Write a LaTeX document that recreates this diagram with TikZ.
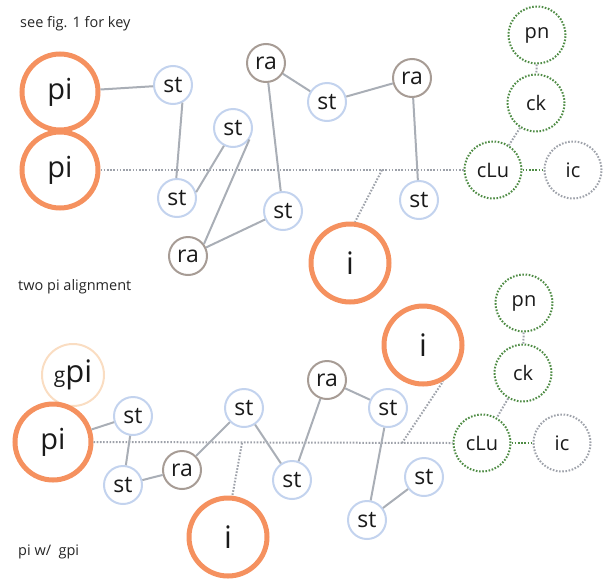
\documentclass[tikz,border=0pt]{standalone}
\usepackage{fontspec}
\setmainfont{Open Sans}
\definecolor{piorange}{HTML}{F5915F}
\definecolor{stblue}{HTML}{C3D3EE}
\definecolor{rabrown}{HTML}{A79C95}
\definecolor{edgegrey}{HTML}{A9AEB6}
\definecolor{clugreen}{HTML}{4F8C45}
\definecolor{icgrey}{HTML}{9EA2AA}
\definecolor{gpipeach}{HTML}{FADDC2}
\definecolor{inktext}{HTML}{1A1A1A}
\tikzset{
  every node/.style={text=inktext},
  pinode/.style={circle, draw=piorange, line width=5pt, minimum size=76pt, inner sep=0pt, font=\fontsize{29}{29}\selectfont},
  inode/.style={circle, draw=piorange, line width=5pt, minimum size=78pt, inner sep=0pt, font=\fontsize{31}{31}\selectfont},
  gpinode/.style={circle, draw=gpipeach, line width=2pt, minimum size=62pt, inner sep=0pt},
  stnode/.style={circle, draw=stblue, line width=2pt, minimum size=38pt, inner sep=0pt, font=\fontsize{23}{23}\selectfont},
  ranode/.style={circle, draw=rabrown, line width=2pt, minimum size=38pt, inner sep=0pt, font=\fontsize{23}{23}\selectfont},
  grnode/.style={circle, draw=clugreen, line width=2pt, dash pattern=on 1.6pt off 1.6pt, minimum size=57pt, inner sep=0pt, font=\fontsize{20}{20}\selectfont},
  icnode/.style={circle, draw=icgrey, line width=2pt, dash pattern=on 1.6pt off 1.6pt, minimum size=57pt, inner sep=0pt, font=\fontsize{20}{20}\selectfont},
  link/.style={draw=edgegrey, line width=2pt},
  dotlink/.style={draw=icgrey, line width=2pt, dash pattern=on 1.6pt off 1.6pt},
  greenlink/.style={draw=clugreen, line width=2pt, dash pattern=on 1.6pt off 1.6pt},
  caption/.style={anchor=west, inner sep=0pt, font=\fontsize{14.5}{14.5}\selectfont, text=black!85},
}
\begin{document}
\begin{tikzpicture}[x=1pt, y=-1pt]
\useasboundingbox (0,0) rectangle (609,581);
% ---------- top: two pi alignment ----------
\node[caption] (cap1) at (20,24) {see fig. 1 for key};
\node[pinode] (pia) at (60,92) {pi};
\node[pinode] (pib) at (60,170) {pi};
\node[stnode] (st1) at (173,85) {st};
\node[stnode] (st2) at (233,128) {st};
\node[stnode] (st3) at (177,198) {st};
\node[ranode] (ra1) at (266,63) {ra};
\node[stnode] (st4) at (283,211) {st};
\node[ranode] (ra2) at (188,256) {ra};
\node[stnode] (st5) at (327,102) {st};
\node[ranode] (ra3) at (412,78) {ra};
\node[stnode] (st6) at (419,200) {st};
\node[grnode] (pn1) at (537,35) {pn};
\node[grnode] (ck1) at (536,103) {ck};
\node[grnode] (clu1) at (493,170) {cLu};
\node[icnode] (ic1) at (573,170) {ic};
\node[inode] (i1) at (350,263) {i};
\coordinate (b1) at (382,170);

\draw[dotlink] (pib.east) -- (clu1.west);
\draw[dotlink] (b1) -- (i1.83);
\draw[dotlink] (pn1) -- (ck1);
\draw[dotlink] (ck1) -- (clu1);
\draw[greenlink] (clu1) -- (ic1);
\draw[link] (pia) -- (st1);
\draw[link] (st1.-62) -- (st3.92);
\draw[link] (st3.17) -- (st2.-117);
\draw[link] (st2.-35) -- (ra2.37);
\draw[link] (ra2) -- (st4);
\draw[link] (ra1) -- (st4);
\draw[link] (ra1) -- (st5);
\draw[link] (st5) -- (ra3);
\draw[link] (ra3) -- (st6);

\node[caption] (cap2) at (18,287) {two pi alignment};

% ---------- bottom: pi with gpi ----------
\node[gpinode] (gpi) at (73,375) {{\fontsize{21}{21}\selectfont g}{\fontsize{31}{31}\selectfont pi}};
\node[pinode] (pic) at (53,442) {pi};
\node[stnode] (st7) at (133,416) {st};
\node[stnode] (st8) at (123,485) {st};
\node[ranode] (ra4) at (182,470) {ra};
\node[stnode] (st9) at (244,408) {st};
\node[stnode] (st10) at (292,480) {st};
\node[inode] (i2) at (228,537) {i};
\node[ranode] (ra5) at (327,380) {ra};
\node[stnode] (st11) at (388,408) {st};
\node[inode] (i3) at (423,345) {i};
\node[grnode] (pn2) at (524,303) {pn};
\node[grnode] (ck2) at (523,373) {ck};
\node[grnode] (clu2) at (482,443) {cLu};
\node[icnode] (ic2) at (562,443) {ic};
\node[stnode] (st12) at (424,477) {st};
\node[stnode] (st13) at (367,520) {st};
\coordinate (b2) at (242,443);
\coordinate (b3) at (402,443);

\draw[dotlink] (pic.east) -- (clu2.west);
\draw[dotlink] (b2) -- (i2.84);
\draw[dotlink] (b3) -- (i3.-61);
\draw[dotlink] (pn2) -- (ck2);
\draw[dotlink] (ck2) -- (clu2);
\draw[greenlink] (clu2) -- (ic2);
\draw[link] (pic) -- (st7);
\draw[link] (st7) -- (st8);
\draw[link] (st8) -- (ra4);
\draw[link] (ra4) -- (st9);
\draw[link] (st9) -- (st10);
\draw[link] (st10) -- (ra5);
\draw[link] (ra5) -- (st11);
\draw[link] (st11) -- (st13);
\draw[link] (st13) -- (st12);

\node[caption] (cap3) at (18,552) {pi w/\ \ gpi};
\end{tikzpicture}
\end{document}
